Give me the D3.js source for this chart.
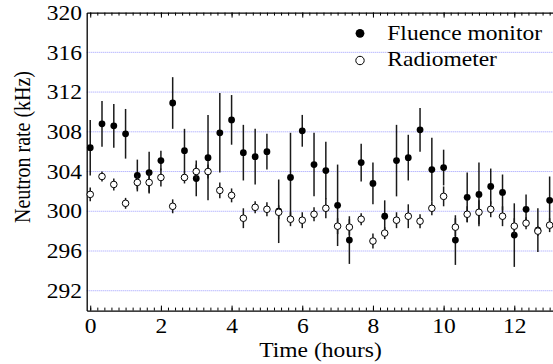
<!DOCTYPE html>
<html>
<head>
<meta charset="utf-8">
<script src="https://cdn.jsdelivr.net/npm/d3@7"></script>
<style>
  html, body { margin: 0; padding: 0; background: #fff; }
  svg { display: block; }
  svg text { font-family: 'Liberation Serif' !important; }
</style>
</head>
<body>
<svg id="chart" width="553" height="364" font-family="Liberation Serif"></svg>
<script>
// ---- data ----
const times = [0, 0.333, 0.667, 1, 1.333, 1.667, 2, 2.333, 2.667, 3,
  3.333, 3.667, 4, 4.333, 4.667, 5, 5.333, 5.667, 6, 6.333,
  6.667, 7, 7.333, 7.667, 8, 8.333, 8.667, 9, 9.333, 9.667,
  10, 10.333, 10.667, 11, 11.333, 11.667, 12, 12.333, 12.667, 13];

const fluenceRate = [306.4, 308.8, 308.6, 307.8, 303.6, 303.9, 305.1, 310.9, 306.1, 303.3,
  305.4, 307.9, 309.2, 305.9, 305.5, 306.0, 300.0, 303.4, 308.1, 304.7,
  304.1, 300.6, 297.1, 304.9, 302.8, 299.5, 305.1, 305.4, 308.2, 304.2,
  304.4, 297.1, 301.4, 301.7, 302.5, 301.9, 297.6, 300.2, 298.1, 301.1];
const fluenceErr = [2.8, 2.3, 2.2, 2.5, 1.6, 2.1, 1.0, 2.6, 2.2, 1.8,
  4.3, 4.0, 2.5, 2.8, 2.8, 1.8, 3.2, 4.5, 1.6, 3.2,
  2.9, 4.1, 2.4, 1.9, 2.1, 1.6, 3.6, 2.3, 2.2, 3.2,
  1.8, 2.5, 2.5, 3.2, 1.8, 1.8, 3.2, 1.5, 2.2, 2.4];

const radiometerRate = [301.7, 303.5, 302.7, 300.8, 302.9, 302.9, 303.4, 300.5, 303.4, 304.0,
  304.0, 302.1, 301.6, 299.3, 300.4, 300.2, 299.9, 299.2, 299.1, 299.7,
  300.3, 298.5, 298.4, 299.2, 297.0, 297.8, 299.1, 299.5, 299.0, 300.3,
  301.5, 298.4, 299.7, 299.9, 300.2, 299.5, 298.5, 298.8, 298.0, 298.6];
const radiometerErr = [0.7, 0.5, 0.6, 0.55, 0.7, 1.0, 0.9, 0.7, 0.6, 0.7,
  0.7, 0.8, 0.7, 1.0, 0.6, 0.7, 0.7, 0.7, 0.8, 0.7,
  1.0, 0.8, 0.8, 0.6, 0.75, 0.6, 0.8, 1.2, 0.7, 0.7,
  1.0, 0.9, 0.8, 1.2, 0.8, 1.0, 0.8, 0.6, 0.5, 0.7];

const xTickValues = [0, 2, 4, 6, 8, 10, 12];
const yTickValues = [292, 296, 300, 304, 308, 312, 316, 320];
const gridValues = [292, 296, 300, 304, 308, 312, 316];
const legendLabels = ["Fluence monitor", "Radiometer"];
const xTitle = "Time (hours)";
const yTitle = "Neutron rate (kHz)";

(function () {
// ---- layout ----
const SX = 1.12;          // horizontal stretch of the text in the reference
const FS = 21;
const FONT = `${FS}px 'Liberation Serif'`;
const pLeft = 86.7, pRight = 556.7, pTop = 12.6, pBottom = 310.6;

const svg = d3.select("#chart");
const x = d3.scaleLinear().domain([-0.1, 13.2]).range([pLeft, pRight]);
const y = d3.scaleLinear().domain([290, 320]).range([pBottom, pTop]);

// grid lines
svg.append("g").selectAll("line").data(gridValues).join("line")
  .attr("x1", pLeft).attr("x2", 553)
  .attr("y1", d => y(d)).attr("y2", d => y(d))
  .attr("stroke", "#9a9aff").attr("stroke-width", 1)
  .attr("stroke-dasharray", "1,1");

// bottom axis: minor ticks
const minorTicks = d3.range(0, 13.21, 0.2);
svg.append("g").attr("transform", `translate(0,${pBottom})`)
  .call(d3.axisBottom(x).tickValues(minorTicks).tickSizeInner(-3).tickSizeOuter(0).tickFormat(""))
  .call(g => g.select(".domain").remove())
  .call(g => g.selectAll("line").attr("stroke", "#000"));
// bottom axis: major ticks + labels
const xAxisG = svg.append("g").attr("transform", `translate(0,${pBottom})`)
  .call(d3.axisBottom(x).tickValues(xTickValues).tickSizeInner(-5).tickSizeOuter(0).tickPadding(7.6).tickFormat(d3.format("d")));
xAxisG.attr("font-family", null).attr("font-size", null);
xAxisG.select(".domain").attr("stroke", "#000").attr("stroke-width", 1.3);
xAxisG.selectAll("line").attr("stroke", "#000");
xAxisG.selectAll("text").style("font", FONT)
  .attr("transform", `scale(${SX},1)`);

// top axis (mirror ticks)
svg.append("g").attr("transform", `translate(0,${pTop})`)
  .call(d3.axisTop(x).tickValues(minorTicks).tickSizeInner(-3).tickSizeOuter(0).tickFormat(""))
  .call(g => g.select(".domain").attr("stroke", "#000").attr("stroke-width", 1.3))
  .call(g => g.selectAll("line").attr("stroke", "#000"));
svg.append("g").attr("transform", `translate(0,${pTop})`)
  .call(d3.axisTop(x).tickValues(xTickValues).tickSizeInner(-5).tickSizeOuter(0).tickFormat(""))
  .call(g => g.select(".domain").remove())
  .call(g => g.selectAll("line").attr("stroke", "#000"));

// left axis
const yAxisG = svg.append("g").attr("transform", `translate(${pLeft},0)`)
  .call(d3.axisLeft(y).tickValues(yTickValues).tickSizeInner(0).tickSizeOuter(0).tickPadding(4.2).tickFormat(d3.format("d")));
yAxisG.attr("font-family", null).attr("font-size", null);
yAxisG.select(".domain").attr("stroke", "#000").attr("stroke-width", 1.3);
yAxisG.selectAll("text").style("font", FONT)
  .attr("transform", `scale(${SX},1)`);

// titles
svg.append("text")
  .attr("transform", `translate(320.5,357) scale(${SX},1)`)
  .attr("text-anchor", "middle").style("font", FONT).text(xTitle);
svg.append("text")
  .attr("transform", `translate(30,147) rotate(-90) scale(1,${SX})`)
  .attr("text-anchor", "middle").style("font", "20px 'Liberation Serif'").text(yTitle);

// series
const fl = times.map((t, i) => ({ t, v: fluenceRate[i], e: fluenceErr[i] }));
const rd = times.map((t, i) => ({ t, v: radiometerRate[i], e: radiometerErr[i] }));

const gF = svg.append("g");
gF.selectAll("line").data(fl).join("line")
  .attr("x1", d => x(d.t)).attr("x2", d => x(d.t))
  .attr("y1", d => y(d.v - d.e)).attr("y2", d => y(d.v + d.e))
  .attr("stroke", "#1a1a1a").attr("stroke-width", 1.5);
gF.selectAll("circle").data(fl).join("circle")
  .attr("cx", d => x(d.t)).attr("cy", d => y(d.v)).attr("r", 3.4)
  .attr("fill", "#000");

const gR = svg.append("g");
gR.selectAll("line").data(rd).join("line")
  .attr("x1", d => x(d.t)).attr("x2", d => x(d.t))
  .attr("y1", d => y(d.v - d.e)).attr("y2", d => y(d.v + d.e))
  .attr("stroke", "#1a1a1a").attr("stroke-width", 1.5);
gR.selectAll("circle").data(rd).join("circle")
  .attr("cx", d => x(d.t)).attr("cy", d => y(d.v)).attr("r", 3.3)
  .attr("fill", "#fff").attr("stroke", "#000").attr("stroke-width", 1);

// legend
const lg = svg.append("g");
lg.append("circle").attr("cx", 360).attr("cy", 33.3).attr("r", 4.4).attr("fill", "#000");
lg.append("circle").attr("cx", 360).attr("cy", 60.5).attr("r", 4.2).attr("fill", "#fff")
  .attr("stroke", "#000").attr("stroke-width", 1);
lg.append("text").attr("transform", `translate(387.3,39.6) scale(${SX},1)`)
  .style("font", FONT).text(legendLabels[0]);
lg.append("text").attr("transform", `translate(387.3,66.2) scale(${SX},1)`)
  .style("font", FONT).text(legendLabels[1]);
})();
</script>
</body>
</html>
